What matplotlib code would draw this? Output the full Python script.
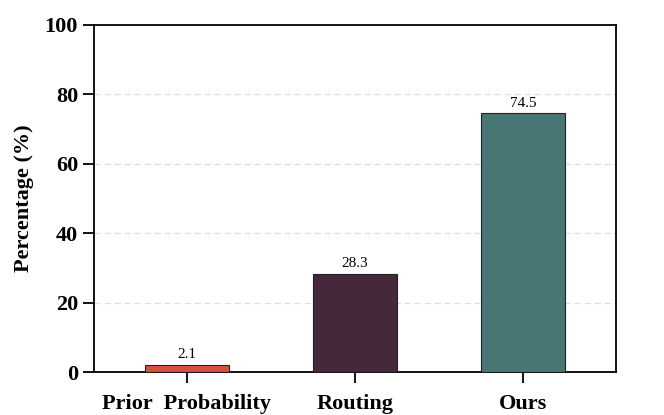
import matplotlib
matplotlib.use("Agg")
import matplotlib.pyplot as plt

categories = ["Prior  Probability", "Routing", "Ours"]
values = [2.1, 28.3, 74.5]
colors = ["#d9503f", "#45293b", "#477675"]
yticks = [0, 20, 40, 60, 80, 100]

plt.rcParams['font.family'] = ['Liberation Serif', 'DejaVu Serif']

fig = plt.figure(figsize=(6.64, 4.15), dpi=100)
ax = fig.add_axes([0.1416, 0.1036, 0.7861, 0.8369])
x = list(range(len(categories)))
bars = ax.bar(x, values, width=0.5, color=colors, edgecolor="#222222", linewidth=0.8, zorder=3)
for xi, v in zip(x, values):
    ax.text(xi, v + 1.0, f"{v}", ha="center", va="bottom", fontsize=11)

ax.set_xlim(-0.55, 2.55)
ax.set_ylim(0, 100)
ax.set_yticks(yticks)
ax.set_xticks(x)
ax.set_xticklabels(categories, fontsize=16, fontweight="bold")
for lab in ax.get_yticklabels():
    lab.set_fontsize(16)
    lab.set_fontweight("bold")
ax.set_ylabel("Percentage (%)", fontsize=16, fontweight="bold", labelpad=8)
for g in [20, 40, 60, 80]:
    ax.axhline(g, color="#dddddd", linestyle=(0, (5, 3)), linewidth=0.9, zorder=0)
for s in ax.spines.values():
    s.set_linewidth(1.3)
ax.tick_params(axis="both", length=8, width=1.3, direction="out")
ax.tick_params(axis="x", pad=8)
fig.savefig("out.png", dpi=100)
